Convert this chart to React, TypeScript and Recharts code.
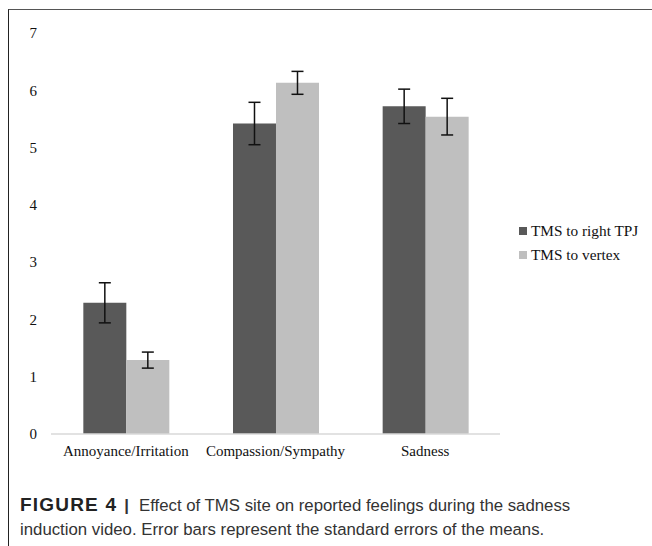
import { BarChart, Bar, XAxis, YAxis, ErrorBar, Legend } from 'recharts';

const categories = ['Annoyance/Irritation', 'Compassion/Sympathy', 'Sadness'];
const rightTPJ = [2.29, 5.42, 5.72];
const rightTPJErr = [0.35, 0.37, 0.3];
const vertex = [1.29, 6.13, 5.54];
const vertexErr = [0.14, 0.2, 0.32];
const yTicks = [0, 1, 2, 3, 4, 5, 6, 7];

const seriesNames = ['TMS to right TPJ', 'TMS to vertex'];
const colors = ['#595959', '#bfbfbf'];

const data = categories.map((name, i) => ({
  name,
  tpj: rightTPJ[i],
  tpjErr: rightTPJErr[i],
  vertex: vertex[i],
  vertexErr: vertexErr[i],
}));

const serif = '"Liberation Serif", "Times New Roman", serif';
const sans = '"Liberation Sans", Arial, Helvetica, sans-serif';

function LegendBox(props: any) {
  const items = props.payload || [];
  return (
    <div style={{ fontFamily: serif, fontSize: 15.3, color: '#111' }}>
      {items.map((it: any) => (
        <div
          key={it.value}
          style={{ display: 'flex', alignItems: 'center', height: 24 }}
        >
          <span
            style={{
              width: 8,
              height: 8,
              backgroundColor: it.color,
              marginRight: 4,
              display: 'inline-block',
            }}
          />
          <span>{it.value}</span>
        </div>
      ))}
    </div>
  );
}

export default function App() {
  return (
    <div
      style={{
        position: 'fixed',
        left: 0,
        top: 0,
        width: 652,
        height: 546,
        background: '#fff',
        overflow: 'hidden',
      }}
    >
      <div
        style={{
          position: 'absolute',
          left: 8,
          top: 9,
          width: 660,
          height: 560,
          borderTop: '1.5px solid #555',
          borderLeft: '1.5px solid #222',
        }}
      />
      <div style={{ position: 'absolute', left: 9, top: 10 }}>
        <BarChart
          width={643}
          height={474}
          data={data}
          margin={{ top: 23, right: 152, bottom: 20, left: 0 }}
          barCategoryGap="21.6%"
          barGap={0}
        >
          <XAxis
            dataKey="name"
            axisLine={{ stroke: '#d9d9d9', strokeWidth: 1.5 }}
            tickLine={false}
            tickSize={0}
            tickMargin={11}
            height={30}
            interval={0}
            tick={{ fill: '#111', fontSize: 15, fontFamily: serif }}
          />
          <YAxis
            width={42}
            domain={[0, 7]}
            ticks={yTicks}
            axisLine={false}
            tickLine={false}
            tickSize={0}
            tickMargin={14}
            tick={{ fill: '#111', fontSize: 15, fontFamily: serif }}
          />
          <Legend
            layout="vertical"
            align="center"
            verticalAlign="middle"
            wrapperStyle={{ left: 510, top: 209, width: 140 }}
            content={LegendBox}
          />
          <Bar
            dataKey="tpj"
            name={seriesNames[0]}
            fill={colors[0]}
            isAnimationActive={false}
          >
            <ErrorBar
              dataKey="tpjErr"
              width={6}
              stroke="#111"
              strokeWidth={1.5}
            />
          </Bar>
          <Bar
            dataKey="vertex"
            name={seriesNames[1]}
            fill={colors[1]}
            isAnimationActive={false}
          >
            <ErrorBar
              dataKey="vertexErr"
              width={6}
              stroke="#111"
              strokeWidth={1.5}
            />
          </Bar>
        </BarChart>
      </div>
      <div
        style={{
          position: 'absolute',
          left: 20,
          top: 493,
          width: 630,
          fontFamily: sans,
          fontSize: 16.8,
          lineHeight: '24px',
          color: '#333',
        }}
      >
        <span
          style={{
            fontWeight: 'bold',
            color: '#222',
            fontSize: 19,
            letterSpacing: 1.2,
          }}
        >
          FIGURE 4
        </span>
        <span
          style={{
            fontWeight: 'bold',
            color: '#333',
            margin: '0 10px 0 7px',
          }}
        >
          |
        </span>
        Effect of TMS site on reported feelings during the sadness
        <br />
        induction video. Error bars represent the standard errors of the means.
      </div>
    </div>
  );
}
